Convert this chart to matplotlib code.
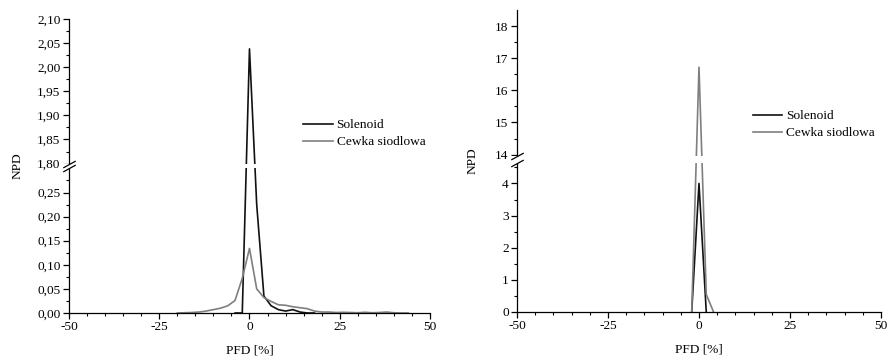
#!/usr/bin/env python3
"""
NPD vs PFD for a solenoid and a saddle coil, two panels with a broken y axis.
"""

import numpy as np
import matplotlib
matplotlib.use('Agg')
import matplotlib.pyplot as plt
from matplotlib.path import Path

plt.rcParams['font.family'] = ['Liberation Serif', 'DejaVu Serif']
plt.rcParams['font.size'] = 9.6

# left panel data
pfd_sol_l = [-4, -2, 0, 2, 4, 6, 8, 10, 12, 14, 16, 18]
npd_sol_l = [0, 0, 2.038, 0.225, 0.035, 0.015, 0.007, 0.004, 0.007, 0.002, 0, 0]
pfd_cew_l = [-20, -18, -16, -14, -12, -10, -8, -6, -4, -2, 0, 2, 4, 6, 8, 10,
             12, 14, 16, 18, 20, 22, 24, 26, 28, 30, 32, 34, 36, 38, 40, 42, 44]
npd_cew_l = [0, 0.0005, 0.001, 0.002, 0.004, 0.007, 0.010, 0.015, 0.026, 0.072,
             0.134, 0.050, 0.032, 0.024, 0.017, 0.016, 0.013, 0.011, 0.009,
             0.004, 0.002, 0.002, 0.001, 0.0015, 0.001, 0.0005, 0.0015, 0.0005,
             0.001, 0.002, 0.0005, 0, 0]

# right panel data
pfd_sol_r = [-2, 0, 2]
npd_sol_r = [0, 4.0, 0]
pfd_cew_r = [-2, 0, 2, 4]
npd_cew_r = [0, 16.72, 0.55, 0]

x_ticks = [-50, -25, 0, 25, 50]
x_labels = ['-50', '-25', '0', '25', '50']

yl_major = [0.0, 0.05, 0.10, 0.15, 0.20, 0.25, 1.80, 1.85, 1.90, 1.95, 2.00, 2.05, 2.10]
yl_labels = ['0,00', '0,05', '0,10', '0,15', '0,20', '0,25',
             '1,80', '1,85', '1,90', '1,95', '2,00', '2,05', '2,10']
yr_major = [0, 1, 2, 3, 4, 14, 15, 16, 17, 18]
yr_labels = ['0', '1', '2', '3', '4', '14', '15', '16', '17', '18']

BLACK = '#111111'
GRAY = '#7f7f7f'


def make_break(lo, hi, gap):
    def fwd(y):
        y = np.asarray(y, dtype=float)
        return np.where(y <= lo, y,
                        np.where(y >= hi, y - (hi - lo) + gap,
                                 lo + (y - lo) * gap / (hi - lo)))

    def inv(t):
        t = np.asarray(t, dtype=float)
        return np.where(t <= lo, t,
                        np.where(t >= lo + gap, t + (hi - lo) - gap,
                                 lo + (t - lo) * (hi - lo) / gap))
    return fwd, inv


def style_axis(ax, lo, hi, gap, ytop, major, labels, minor, ylabelpad):
    ax.set_yscale('function', functions=make_break(lo, hi, gap))
    ax.set_xlim(-50, 50)
    ax.set_ylim(0, ytop)
    ax.spines['top'].set_visible(False)
    ax.spines['right'].set_visible(False)
    for s in ('left', 'bottom'):
        ax.spines[s].set_linewidth(0.9)
    ax.set_xticks(x_ticks)
    ax.set_xticklabels(x_labels)
    ax.set_xticks(np.arange(-45, 50, 5), minor=True)
    ax.set_yticks(major)
    ax.set_yticklabels(labels)
    ax.set_yticks(minor, minor=True)
    ax.tick_params(which='major', direction='out', length=4, width=0.9, pad=2)
    ax.tick_params(which='minor', direction='out', length=2.2, width=0.8)
    ax.set_xlabel('PFD [%]', labelpad=8)
    ax.set_ylabel('NPD', labelpad=ylabelpad)

    # gap across lines and spine
    band = ax.axhspan(lo, hi, xmin=-0.02, xmax=1.0, color='white', zorder=3, lw=0)
    band.set_clip_on(False)
    brk = Path([(-1, -0.55), (1, 0.55)], [Path.MOVETO, Path.LINETO])
    ax.plot([0, 0], [lo, hi], transform=ax.get_yaxis_transform(), ls='none',
            marker=brk, markersize=9, markeredgewidth=0.9, color='black',
            clip_on=False, zorder=4)


fig = plt.figure(figsize=(8.88, 3.56), dpi=100)
ax1 = fig.add_axes([0.0777, 0.1208, 0.4065, 0.8258])
ax2 = fig.add_axes([0.5822, 0.1236, 0.4099, 0.8483])

ax1.plot(pfd_sol_l, npd_sol_l, color=BLACK, lw=1.2, label='Solenoid')
ax1.plot(pfd_cew_l, npd_cew_l, color=GRAY, lw=1.2, label='Cewka siodlowa')
style_axis(ax1, 0.30, 1.80, 0.01, 2.10, yl_major, yl_labels,
           [0.025, 0.075, 0.125, 0.175, 0.225, 0.275,
            1.825, 1.875, 1.925, 1.975, 2.025, 2.075], 10)

ax2.plot(pfd_sol_r, npd_sol_r, color=BLACK, lw=1.2, label='Solenoid')
ax2.plot(pfd_cew_r, npd_cew_r, color=GRAY, lw=1.2, label='Cewka siodlowa')
style_axis(ax2, 4.65, 13.95, 0.2, 18.5, yr_major, yr_labels,
           [0.5, 1.5, 2.5, 3.5, 4.5, 14.5, 15.5, 16.5, 17.5], 12)

for ax, anchor in ((ax1, (0.634, 0.61)), (ax2, (0.634, 0.62))):
    ax.legend(loc='center left', bbox_to_anchor=anchor, frameon=False,
              handlelength=2.2, handletextpad=0.3, labelspacing=0.35,
              borderaxespad=0)

plt.savefig('out.png', dpi=100)
